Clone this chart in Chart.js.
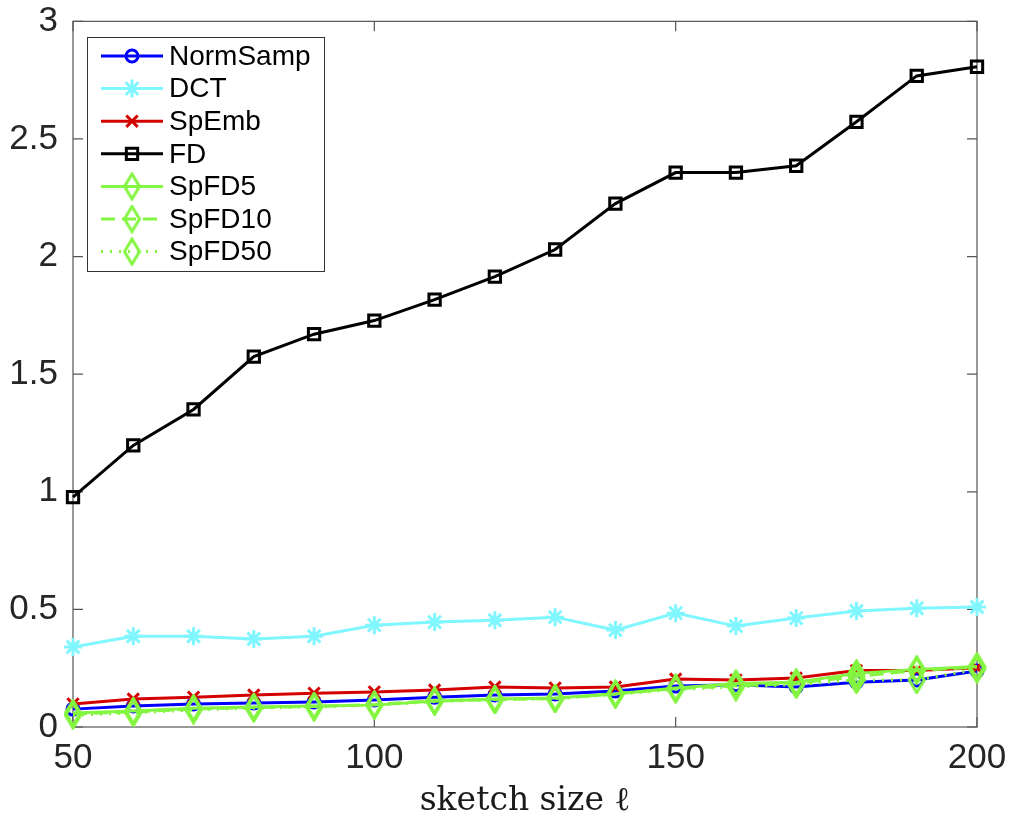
<!DOCTYPE html>
<html lang="en">
<head>
<meta charset="UTF-8">
<title>Error vs sketch size</title>
<script src="https://cdn.jsdelivr.net/npm/chart.js"></script>
<style>
  html, body { margin: 0; padding: 0; background: #fff; }
  #wrap { width: 1014px; height: 822px; }
</style>
</head>
<body>
<div id="wrap"><canvas id="errChart" width="1014" height="822"></canvas></div>
<script>
  // values
  const sketchSize = [50, 60, 70, 80, 90, 100, 110, 120, 130, 140, 150, 160, 170, 180, 190, 200];
  const normSamp = [0.076, 0.089, 0.098, 0.102, 0.106, 0.115, 0.127, 0.136, 0.140, 0.153, 0.174, 0.180, 0.170, 0.190, 0.200, 0.238];
  const dct      = [0.340, 0.386, 0.386, 0.374, 0.386, 0.433, 0.446, 0.454, 0.467, 0.412, 0.484, 0.429, 0.463, 0.493, 0.505, 0.510];
  const spEmb    = [0.098, 0.119, 0.127, 0.136, 0.144, 0.149, 0.157, 0.170, 0.166, 0.170, 0.204, 0.200, 0.208, 0.240, 0.240, 0.252];
  const fd       = [0.977, 1.197, 1.350, 1.575, 1.670, 1.728, 1.817, 1.915, 2.030, 2.225, 2.357, 2.357, 2.386, 2.573, 2.768, 2.807];
  const spFD5    = [0.059, 0.068, 0.080, 0.085, 0.089, 0.093, 0.110, 0.119, 0.123, 0.140, 0.166, 0.185, 0.190, 0.228, 0.245, 0.257];
  const spFD10   = [0.055, 0.064, 0.076, 0.083, 0.087, 0.096, 0.112, 0.117, 0.121, 0.142, 0.163, 0.175, 0.185, 0.215, 0.240, 0.255];
  const spFD50   = [0.050, 0.060, 0.072, 0.080, 0.085, 0.093, 0.108, 0.115, 0.120, 0.138, 0.160, 0.170, 0.180, 0.200, 0.200, 0.245];

  const seriesNames = ['NormSamp', 'DCT', 'SpEmb', 'FD', 'SpFD5', 'SpFD10', 'SpFD50'];
  const yTicks = [0, 0.5, 1, 1.5, 2, 2.5, 3];
  const xTicks = [50, 100, 150, 200];
  const xTitle = 'sketch size \u2113';

  const GREEN = '#84f540';

  // matlab-style diamond, a bit taller than wide
  function diamond(color) {
    const c = document.createElement('canvas');
    c.width = 19; c.height = 29;
    const g = c.getContext('2d');
    g.strokeStyle = color;
    g.lineWidth = 3;
    g.beginPath();
    g.moveTo(9.5, 2); g.lineTo(17, 14.5); g.lineTo(9.5, 27); g.lineTo(2, 14.5);
    g.closePath();
    g.stroke();
    return c;
  }
  const greenDiamond = diamond(GREEN);

  const styles = [
    { color: '#0000ff', marker: 'circle',   radius: 6, dash: [] },
    { color: '#80f6ff', marker: 'star',     radius: 9, dash: [] },
    { color: '#d40000', marker: 'crossRot', radius: 8, dash: [] },
    { color: '#000000', marker: 'rect',     radius: 8, dash: [] },
    { color: GREEN,     marker: greenDiamond, radius: 9, dash: [] },
    { color: GREEN,     marker: greenDiamond, radius: 9, dash: [14, 7] },
    { color: GREEN,     marker: greenDiamond, radius: 9, dash: [2, 7] }
  ];
  const allSeries = [normSamp, dct, spEmb, fd, spFD5, spFD10, spFD50];

  const datasets = allSeries.map((vals, i) => ({
    label: seriesNames[i],
    data: sketchSize.map((x, j) => ({ x: x, y: vals[j] })),
    borderColor: styles[i].color,
    backgroundColor: 'rgba(0,0,0,0)',
    borderWidth: 3,
    borderDash: styles[i].dash,
    pointStyle: styles[i].marker,
    pointRadius: styles[i].radius,
    pointBorderWidth: 3,
    pointBorderColor: styles[i].color,
    pointBackgroundColor: 'rgba(0,0,0,0)',
    tension: 0,
    clip: false,
    order: allSeries.length - i
  }));

  // box around the axes plus inward ticks on all four sides
  const frame = {
    id: 'frame',
    beforeDatasetsDraw(chart) {
      const { ctx, chartArea: a, scales } = chart;
      ctx.save();
      ctx.strokeStyle = '#555555';
      ctx.lineWidth = 1.2;
      ctx.strokeRect(a.left, a.top, a.right - a.left, a.bottom - a.top);
      ctx.beginPath();
      yTicks.forEach(v => {
        const y = scales.y.getPixelForValue(v);
        ctx.moveTo(a.left, y); ctx.lineTo(a.left + 10, y);
        ctx.moveTo(a.right, y); ctx.lineTo(a.right - 10, y);
      });
      xTicks.forEach(v => {
        const x = scales.x.getPixelForValue(v);
        ctx.moveTo(x, a.bottom); ctx.lineTo(x, a.bottom - 10);
        ctx.moveTo(x, a.top); ctx.lineTo(x, a.top + 10);
      });
      ctx.stroke();
      ctx.restore();
    }
  };

  // legend with line sample + marker, like matlab
  const lineLegend = {
    id: 'lineLegend',
    afterDraw(chart) {
      const ctx = chart.ctx;
      const left = 87, top = 37, w = 237, h = 234;
      ctx.save();
      ctx.fillStyle = '#ffffff';
      ctx.fillRect(left, top, w, h);
      ctx.strokeStyle = '#333333';
      ctx.lineWidth = 1;
      ctx.strokeRect(left + 0.5, top + 0.5, w, h);
      ctx.font = '28px "Liberation Sans", Arial, sans-serif';
      ctx.textBaseline = 'middle';
      seriesNames.forEach((name, i) => {
        const y = 56 + i * 32.6;
        const st = styles[i];
        ctx.strokeStyle = st.color;
        ctx.lineWidth = 3;
        ctx.setLineDash(st.dash);
        ctx.beginPath();
        ctx.moveTo(101, y); ctx.lineTo(163, y);
        ctx.stroke();
        ctx.setLineDash([]);
        ctx.lineWidth = 3;
        ctx.fillStyle = 'rgba(0,0,0,0)';
        Chart.helpers.drawPoint(ctx, { pointStyle: st.marker, radius: st.radius, rotation: 0, borderWidth: 3 }, 132, y);
        ctx.fillStyle = '#000000';
        ctx.fillText(name, 169, y + 1);
      });
      ctx.restore();
    }
  };

  new Chart(document.getElementById('errChart'), {
    type: 'line',
    data: { datasets: datasets },
    options: {
      responsive: false,
      animation: false,
      layout: { padding: { top: 0, right: 37, left: 0, bottom: 0 } },
      plugins: { legend: { display: false }, tooltip: { enabled: false } },
      scales: {
        x: {
          type: 'linear',
          min: 50, max: 200,
          grid: { display: false },
          border: { display: false },
          afterBuildTicks: s => { s.ticks = xTicks.map(v => ({ value: v })); },
          afterFit: s => { s.height = 95; },
          ticks: {
            padding: 2,
            maxRotation: 0,
            color: '#262626',
            font: { family: '"Liberation Sans", Arial, sans-serif', size: 35 },
            callback: v => String(v)
          },
          title: {
            display: true,
            text: xTitle,
            color: '#1a1a1a',
            font: { family: '"DejaVu Serif", "Liberation Serif", serif', size: 33 },
            padding: { top: 0, bottom: 1 }
          }
        },
        y: {
          min: 0, max: 3,
          grid: { display: false },
          border: { display: false },
          afterBuildTicks: s => { s.ticks = yTicks.map(v => ({ value: v })); },
          afterFit: s => { s.width = 73; },
          ticks: {
            padding: 7,
            color: '#262626',
            font: { family: '"Liberation Sans", Arial, sans-serif', size: 35, lineHeight: 0.82 },
            callback: v => String(v)
          }
        }
      }
    },
    plugins: [frame, lineLegend]
  });
</script>
</body>
</html>
